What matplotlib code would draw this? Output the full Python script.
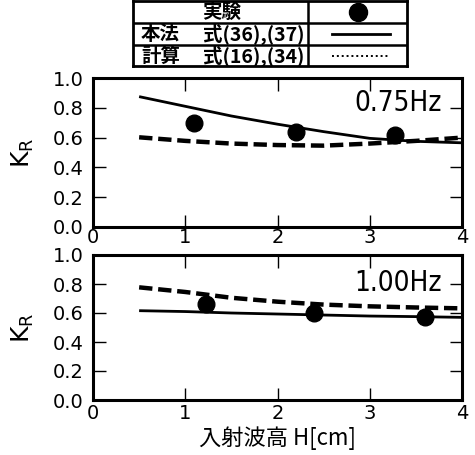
import matplotlib
matplotlib.use("Agg")
import matplotlib.pyplot as plt
from matplotlib import font_manager

# curves
h_curve = [0.5, 1.0, 1.5, 2.0, 2.5, 3.0, 3.5, 4.0]
k_solid_075 = [0.875, 0.81, 0.745, 0.69, 0.64, 0.595, 0.575, 0.565]
k_dash_075 = [0.602, 0.578, 0.56, 0.55, 0.546, 0.56, 0.578, 0.60]
k_solid_100 = [0.616, 0.61, 0.60, 0.593, 0.586, 0.579, 0.575, 0.57]
k_dash_100 = [0.777, 0.745, 0.705, 0.678, 0.658, 0.646, 0.638, 0.632]

# experiment points
h_exp_075 = [1.1, 2.2, 3.27]
k_exp_075 = [0.70, 0.64, 0.615]
h_exp_100 = [1.22, 2.4, 3.6]
k_exp_100 = [0.665, 0.60, 0.57]

freq_labels = ["0.75Hz", "1.00Hz"]
y_ticks = [0.0, 0.2, 0.4, 0.6, 0.8, 1.0]
x_ticks = [0, 1, 2, 3, 4]

JP = "Noto Sans CJK JP"
fonts = font_manager.fontManager.ttflist
if any(f.name == "Liberation Sans Narrow" for f in fonts):
    hz_font = dict(family="Liberation Sans Narrow", fontsize=22)
elif any(f.name == "DejaVu Sans" and f.stretch == "condensed" for f in fonts):
    hz_font = dict(family="DejaVu Sans", fontstretch="condensed", fontsize=20)
else:
    hz_font = dict(family="DejaVu Sans", fontsize=19)
plt.rcParams["font.family"] = ["DejaVu Sans", JP]

W, H = 475, 455
fig = plt.figure(figsize=(W / 100, H / 100), dpi=100)


def px_axes(left, top, right, bottom):
    return fig.add_axes([left / W, 1 - bottom / H, (right - left) / W, (bottom - top) / H])


def style_panel(ax, xpad):
    ax.set_xlim(0, 4)
    ax.set_ylim(0, 1.0)
    ax.set_xticks(x_ticks)
    ax.set_yticks(y_ticks)
    ax.set_yticklabels([f"{v:.1f}" for v in y_ticks])
    for s in ax.spines.values():
        s.set_linewidth(2.2)
    ax.tick_params(direction="in", length=9, width=1.0, top=True, right=True,
                   labelsize=14)
    ax.tick_params(axis="y", pad=7)
    ax.tick_params(axis="x", pad=xpad)
    ax.set_ylabel("K$_\\mathrm{R}$", fontsize=18, labelpad=12)


panels = [
    (px_axes(93, 78, 462, 227), k_solid_075, k_dash_075, h_exp_075, k_exp_075, 0.83, 1),
    (px_axes(93, 255, 462, 400), k_solid_100, k_dash_100, h_exp_100, k_exp_100, 0.807, 3),
]
for (ax, solid, dash, hx, kx, ylab, xpad), flabel in zip(panels, freq_labels):
    style_panel(ax, xpad)
    ax.plot(h_curve, solid, color="black", lw=2.0, solid_capstyle="butt")
    ax.plot(h_curve, dash, color="black", lw=3.2, linestyle=(0, (3, 1.3)))
    ax.plot(hx, kx, "o", color="black", markersize=12, zorder=5)
    ax.text(3.78, ylab, flabel, ha="right", va="center", **hz_font)

panels[1][0].set_xlabel("入射波高 H[cm]", family=[JP, "DejaVu Sans"], fontsize=16, labelpad=2)

# legend table at the top
lg = px_axes(133, 1, 407, 66)
lg.set_xlim(133, 407)
lg.set_ylim(66, 1)
lg.set_xticks([])
lg.set_yticks([])
for s in lg.spines.values():
    s.set_linewidth(2.0)
lg.axhline(23, color="black", lw=1.8)
lg.axhline(45, color="black", lw=1.8)
lg.axvline(308, color="black", lw=1.8)
tkw = dict(va="center", fontsize=14, fontweight="bold", family=[JP, "DejaVu Sans"])
lg.text(222, 12.5, "実験", ha="center", **tkw)
lg.text(141, 34.5, "本法", ha="left", **tkw)
lg.text(304, 34.5, "式(36),(37)", ha="right", **tkw)
lg.text(141, 56, "計算", ha="left", **tkw)
lg.text(304, 56, "式(16),(34)", ha="right", **tkw)
lg.plot([358], [12], "o", color="black", markersize=13)
lg.plot([332, 390], [34, 34], color="black", lw=2.0)
lg.plot([332, 390], [55.5, 55.5], color="black", lw=1.4, linestyle=(0, (1, 1.5)))

fig.savefig("out.png", dpi=100)
